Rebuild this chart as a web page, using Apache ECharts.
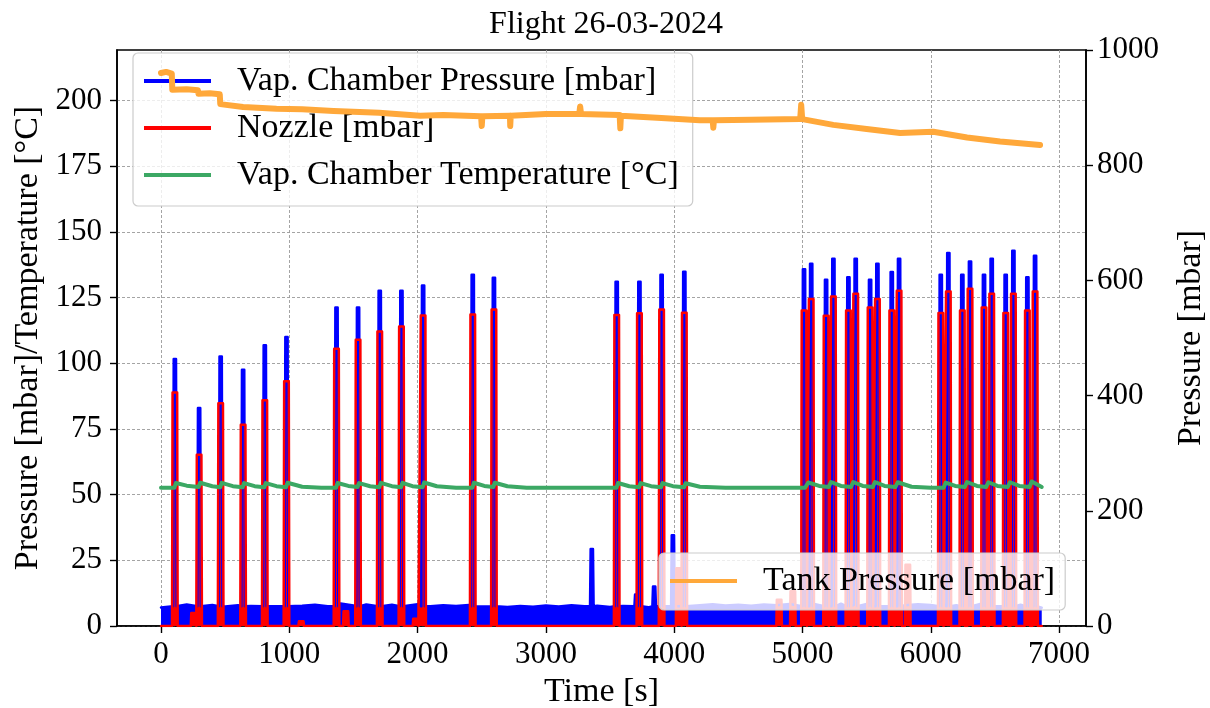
<!DOCTYPE html>
<html><head><meta charset="utf-8">
<script src="https://cdn.jsdelivr.net/npm/echarts@6/dist/echarts.min.js"></script>
<style>html,body{margin:0;padding:0;background:#fff}#c{width:1210px;height:708px}</style>
</head><body><div id="c"></div>
<script>
// ---------------- data ----------------
const chartTitle = 'Flight 26-03-2024';
const xTicks = [0, 1000, 2000, 3000, 4000, 5000, 6000, 7000];
const leftTicks = [0, 25, 50, 75, 100, 125, 150, 175, 200];
const rightTicks = [0, 200, 400, 600, 800, 1000];

const seriesNames = ['Vap. Chamber Pressure [mbar]', 'Nozzle [mbar]', 'Vap. Chamber Temperature [°C]', 'Tank Pressure [mbar]'];

// Vap. chamber pressure: noisy baseline band (time, value)
const vapBaseTime = [0,100,200,300,400,500,600,700,800,900,1000,1100,1200,1300,1400,1500,1600,1700,1800,1900,2000,2100,2200,2300,2400,2500,2600,2700,2800,2900,3000,3100,3200,3300,3400,3500,3600,3700,3800,3900,4000,4100,4200,4300,4400,4500,4600,4700,4800,4900,5000,5100,5200,5300,5400,5500,5600,5700,5800,5900,6000,6100,6200,6300,6400,6500,6600,6700,6800,6865];
const vapBaseValue = [7.0,7.8,8.2,7.6,8.0,7.4,7.9,7.6,8.2,7.5,8.0,7.7,8.1,7.5,8.6,7.8,8.2,7.6,8.1,7.8,8.3,7.5,7.9,7.6,8.0,7.4,8.1,7.2,7.6,7.3,7.8,7.4,7.9,7.5,7.7,7.2,7.6,7.3,7.1,7.5,7.8,8.2,7.9,8.3,7.8,8.1,7.7,8.2,7.9,8.4,8.0,8.3,7.9,8.5,8.0,8.4,7.8,8.2,7.9,8.3,8.0,8.4,7.9,8.3,8.6,8.0,8.4,8.1,8.5,7.0];
// Vap. chamber pressure peaks
const vapPeakTime = [108,297,465,640,809,978,1368,1536,1705,1874,2043,2430,2595,3358,3552,3704,3729,3844,3902,3990,4079,5012,5068,5184,5241,5358,5415,5527,5584,5696,5753,6078,6137,6246,6306,6415,6475,6584,6644,6753,6813];
const vapPeakValue = [101.6,83.0,102.6,97.5,106.8,110.0,121.2,121.2,127.6,127.6,129.6,133.7,132.5,29.3,131.0,12.0,131.0,15.0,133.7,34.5,134.8,135.8,137.9,131.8,139.8,132.7,139.8,131.8,137.9,134.7,139.8,133.7,141.9,133.7,138.7,133.7,139.8,133.7,142.8,132.7,140.9];

// Nozzle pressure peaks (baseline 0)
const nozzleEndTime = 6865;
const nozzlePeakTime = [108,254,297,465,640,809,978,1093,1368,1441,1536,1705,1874,1984,2043,2430,2595,3552,3729,3902,4035,4079,4818,4925,5012,5068,5184,5241,5358,5415,5527,5584,5696,5753,5821,6078,6137,6246,6306,6415,6475,6584,6644,6753,6813];
const nozzlePeakValue = [88.9,4.9,65.2,84.8,76.6,85.9,93.1,1.8,105.5,5.6,108.9,112.1,114.0,2.8,118.2,118.5,120.4,118.4,119.0,120.4,22.0,119.2,10.0,13.2,120.1,124.4,118.1,125.4,120.1,126.4,121.2,124.4,120.1,127.6,23.3,119.1,127.3,120.1,128.3,121.2,126.4,119.1,126.4,120.1,127.3];

// Vap. chamber temperature (time, value)
const tempData = [[0,52.6],[104,52.6],[108,52.0],[116,54.4],[200,53.4],[293,52.9],[297,52.4],[305,54.5],[400,53.2],[462,52.8],[465,52.3],[473,54.5],[560,53.2],[636,52.8],[640,52.3],[648,54.4],[730,53.2],[805,52.8],[809,52.3],[817,54.4],[900,53.2],[974,52.8],[978,52.3],[986,54.5],[1100,53.0],[1250,52.6],[1364,52.6],[1368,52.1],[1376,54.4],[1460,53.3],[1532,52.9],[1536,52.4],[1544,54.4],[1630,53.2],[1701,52.8],[1705,52.3],[1713,54.5],[1800,53.2],[1870,52.8],[1874,52.3],[1882,54.5],[1960,53.2],[2039,52.8],[2043,52.3],[2051,54.6],[2150,53.2],[2300,52.6],[2427,52.6],[2431,52.2],[2439,54.5],[2520,53.3],[2590,52.9],[2594,52.4],[2602,54.5],[2700,53.2],[2850,52.6],[3550,52.6],[3554,52.1],[3562,54.4],[3650,53.2],[3726,52.8],[3730,52.3],[3738,54.4],[3820,53.2],[3897,52.8],[3901,52.3],[3909,54.4],[3990,53.2],[4077,52.8],[4081,52.3],[4089,54.3],[4200,53.0],[4400,52.6],[5020,52.6],[5030,52.1],[5045,54.6],[5130,53.3],[5205,52.9],[5210,52.4],[5222,54.8],[5300,53.3],[5378,52.9],[5383,52.4],[5395,54.8],[5470,53.3],[5548,52.9],[5553,52.4],[5565,54.8],[5640,53.3],[5725,52.9],[5730,52.4],[5742,54.7],[5850,53.0],[6000,52.6],[6100,52.6],[6105,52.1],[6117,54.6],[6190,53.3],[6265,52.9],[6270,52.4],[6282,54.8],[6360,53.3],[6432,52.9],[6437,52.4],[6449,54.7],[6520,53.3],[6600,52.9],[6605,52.4],[6617,54.7],[6690,53.3],[6770,52.9],[6775,52.4],[6787,55.0],[6865,52.9]];

// Tank pressure (time, value) on right axis
const tankData = [[0,960],[40,962],[84,959],[88,931],[200,932],[288,930],[292,924],[380,925],[458,923],[462,906],[640,901],[900,898],[1100,897],[1345,894],[1700,891],[2020,886],[2200,887],[2495,885],[2500,868],[2505,885],[2720,886],[2722,868],[2726,886],[3000,889],[3260,889],[3267,902],[3274,889],[3575,887],[3580,864],[3585,886],[3900,882],[4200,878],[4300,878],[4305,865],[4310,878],[4600,879],[4982,880],[4990,905],[4998,880],[5240,870],[5500,863],[5761,856],[6020,858],[6283,848],[6540,841],[6852,835]];

// ---------------- build ----------------
const FONT = 'Liberation Serif';
const VAP_HALF_BASE = 14, VAP_HALF_TOP = 9;
const NOZ_HALF_BASE = 22, NOZ_HALF_TOP = 18;

function spikeSeries(baseTime, baseValue, peakTime, peakValue, floorValue, halfBase, halfTop) {
  const pts = [];
  baseTime.forEach((t, i) => {
    const inside = peakTime.some(p => Math.abs(p - t) <= halfBase);
    if (!inside) pts.push([t, baseValue[i]]);
  });
  peakTime.forEach((t, i) => {
    pts.push([t - halfBase, floorValue], [t - halfTop, peakValue[i]], [t + halfTop, peakValue[i]], [t + halfBase, floorValue]);
  });
  pts.sort((a, b) => a[0] - b[0]);
  return pts;
}
const vapData = spikeSeries(vapBaseTime, vapBaseValue, vapPeakTime, vapPeakValue, 7.5, VAP_HALF_BASE, VAP_HALF_TOP);
const nozzleData = spikeSeries([0, nozzleEndTime], [0, 0], nozzlePeakTime, nozzlePeakValue, 0, NOZ_HALF_BASE, NOZ_HALF_TOP);

const txt = (size) => ({ fontFamily: FONT, fontSize: size, color: '#000' });
const plain = (v) => String(v);
const gridLine = { show: true, lineStyle: { color: '#9a9a9a', width: 0.9, type: [3, 2] } };
const axisLine = { show: true, onZero: false, lineStyle: { color: '#000', width: 1.6 } };

const chart = echarts.init(document.getElementById('c'), null, { renderer: 'canvas' });
chart.setOption({
  animation: false,
  backgroundColor: '#fff',
  title: { text: chartTitle, left: 601, top: 4, textAlign: 'center', textStyle: Object.assign(txt(32), { fontWeight: 'normal' }) },
  grid: { left: 117, right: 124, top: 50, bottom: 82, show: true, borderColor: '#000', borderWidth: 1.6, containLabel: false, outerBoundsMode: 'none' },
  legend: [
    {
      data: seriesNames.slice(0, 3), orient: 'vertical', left: 133, top: 53, z: 3,
      icon: 'rect', itemWidth: 67, itemHeight: 4, itemGap: 13,
      padding: [11, 14, 14, 11],
      backgroundColor: 'rgba(255,255,255,0.8)', borderColor: '#cccccc', borderWidth: 1.2, borderRadius: 5,
      textStyle: Object.assign(txt(34), { padding: [0, 0, 0, 21] })
    },
    {
      data: [seriesNames[3]], orient: 'vertical', left: 659, top: 553, z: 6,
      icon: 'rect', itemWidth: 67, itemHeight: 4,
      padding: [11, 10, 12, 11],
      backgroundColor: 'rgba(255,255,255,0.8)', borderColor: '#cccccc', borderWidth: 1.2, borderRadius: 5,
      textStyle: Object.assign(txt(34), { padding: [0, 0, 0, 21] })
    }
  ],
  xAxis: {
    type: 'value', min: -343, max: 7210, splitNumber: 8,
    axisLine: axisLine,
    axisTick: { show: true, customValues: xTicks, length: 7, lineStyle: { color: '#000', width: 1.4 } },
    axisLabel: Object.assign(txt(31), { customValues: xTicks, margin: 13, formatter: plain }),
    splitLine: gridLine,
    name: 'Time [s]', nameLocation: 'middle', nameGap: 48, nameTextStyle: txt(34)
  },
  yAxis: [
    {
      type: 'value', position: 'left', min: 0, max: 219.2, interval: 25,
      axisLine: axisLine,
      axisTick: { show: true, customValues: leftTicks, length: 7, lineStyle: { color: '#000', width: 1.4 } },
      axisLabel: Object.assign(txt(31), { customValues: leftTicks, margin: 15, formatter: plain }),
      splitLine: gridLine,
      name: 'Pressure [mbar]/Temperature [°C]', nameLocation: 'middle', nameRotate: 90, nameGap: 70, nameTextStyle: txt(34)
    },
    {
      type: 'value', position: 'right', min: 0, max: 1000, interval: 200,
      axisLine: axisLine,
      axisTick: { show: true, customValues: rightTicks, length: 7, lineStyle: { color: '#000', width: 1.4 } },
      axisLabel: Object.assign(txt(31), { customValues: rightTicks, margin: 11, formatter: plain }),
      splitLine: { show: false },
      name: 'Pressure [mbar]', nameLocation: 'middle', nameRotate: 90, nameGap: 88, nameTextStyle: txt(34)
    }
  ],
  series: [
    {
      name: seriesNames[0], type: 'line', data: vapData, yAxisIndex: 0, z: 2,
      color: '#0000ff', showSymbol: false, symbol: 'none',
      lineStyle: { width: 2.5, color: '#0000ff', cap: 'round', join: 'round' },
      areaStyle: { color: '#0000ff', opacity: 1 }
    },
    {
      name: seriesNames[1], type: 'line', data: nozzleData, yAxisIndex: 0, z: 2,
      color: '#ff0000', showSymbol: false, symbol: 'none',
      lineStyle: { width: 2.5, color: '#ff0000', cap: 'round', join: 'round' },
      areaStyle: { color: '#ff0000', opacity: 1 }
    },
    {
      name: seriesNames[2], type: 'line', data: tempData, yAxisIndex: 0, z: 2,
      color: '#3ca864', showSymbol: false, symbol: 'none',
      lineStyle: { width: 4, color: '#3ca864', cap: 'round', join: 'round' }
    },
    {
      name: seriesNames[3], type: 'line', data: tankData, yAxisIndex: 1, z: 4,
      color: '#ffa83a', showSymbol: false, symbol: 'none',
      lineStyle: { width: 6, color: '#ffa83a', cap: 'round', join: 'round' }
    }
  ]
});
</script></body></html>
